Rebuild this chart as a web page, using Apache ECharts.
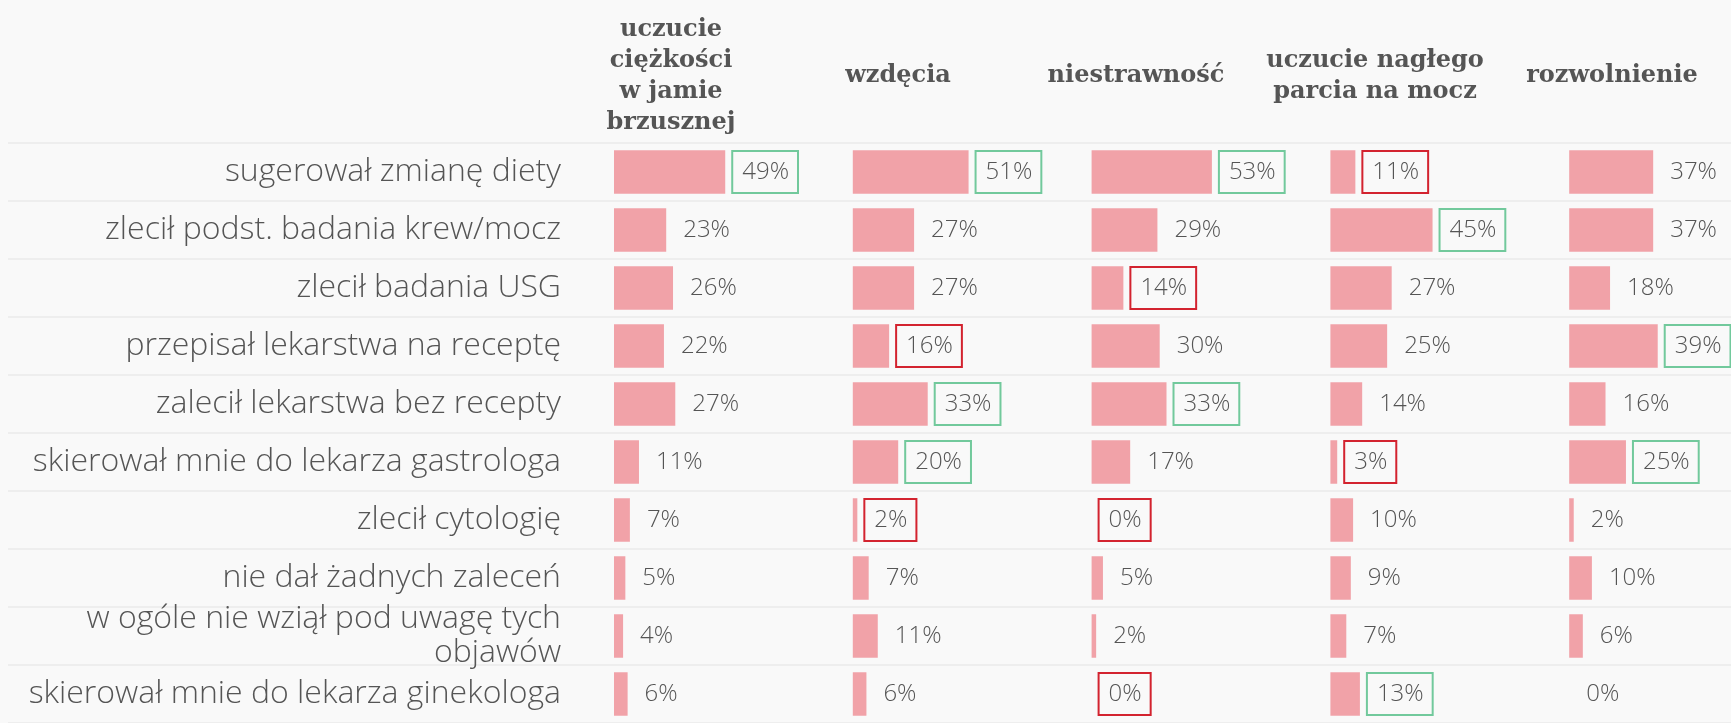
<!DOCTYPE html>
<html>
<head>
<meta charset="utf-8">
<script src="https://cdn.jsdelivr.net/npm/echarts@6/dist/echarts.min.js"></script>
<style>
html,body{margin:0;padding:0;background:#f9f9f9;}
#chart{width:1731px;height:723px;}
</style>
</head>
<body>
<div id="chart"></div>
<script>
// ---- data ----
const categories = [
  'sugerował zmianę diety',
  'zlecił podst. badania krew/mocz',
  'zlecił badania USG',
  'przepisał lekarstwa na receptę',
  'zalecił lekarstwa bez recepty',
  'skierował mnie do lekarza gastrologa',
  'zlecił cytologię',
  'nie dał żadnych zaleceń',
  'w ogóle nie wziął pod uwagę tych\nobjawów',
  'skierował mnie do lekarza ginekologa'
];
const columnNames = [
  'uczucie\nciężkości\nw jamie\nbrzusznej',
  'wzdęcia',
  'niestrawność',
  'uczucie nagłego\nparcia na mocz',
  'rozwolnienie'
];
const ciezkosc     = [49, 23, 26, 22, 27, 11, 7, 5, 4, 6];
const wzdecia      = [51, 27, 27, 16, 33, 20, 2, 7, 11, 6];
const niestrawnosc = [53, 29, 14, 30, 33, 17, 0, 5, 2, 0];
const parcie       = [11, 45, 27, 25, 14, 3, 10, 9, 7, 13];
const rozwolnienie = [37, 37, 18, 39, 16, 25, 2, 10, 6, 0];
// highlight boxes: 1 = green (above), -1 = red (below), 0 = none
const hlCiezkosc     = [1, 0, 0, 0, 0, 0, 0, 0, 0, 0];
const hlWzdecia      = [1, 0, 0, -1, 1, 1, -1, 0, 0, 0];
const hlNiestrawnosc = [1, 0, -1, 0, 1, 0, -1, 0, 0, -1];
const hlParcie       = [-1, 1, 0, 0, 0, -1, 0, 0, 0, 1];
const hlRozwolnienie = [0, 0, 0, 1, 0, 1, 0, 0, 0, 0];

const seriesValues = [ciezkosc, wzdecia, niestrawnosc, parcie, rozwolnienie];
const seriesHighlights = [hlCiezkosc, hlWzdecia, hlNiestrawnosc, hlParcie, hlRozwolnienie];

// ---- layout / style ----
const SANS = "'Open Sans', Lato, sans-serif";
const SERIF = "'DejaVu Serif', serif";
const TEXT = '#555555';
const BAR = '#f1a2a8';
const GREEN = '#72c99c';
const RED = '#d3232f';
const gridTop = 143, gridHeight = 585;
const firstLeft = 614, colStep = 238.8;
const axisMax = 60, colWidth = 136.2;   // 2.27 px per percentage point
const headerX = [671, 898, 1136, 1375, 1612];
const headerY = 76;

const chart = echarts.init(document.getElementById('chart'), null, {renderer: 'canvas'});

const grids = [{left: 8, right: 0, top: gridTop, height: gridHeight}];
const xAxes = [{gridIndex: 0, type: 'value', show: false, min: 0, max: 1}];
const yAxes = [{
  gridIndex: 0, type: 'category', data: categories, inverse: true,
  axisLine: {show: false}, axisTick: {show: false}, axisLabel: {show: false},
  splitLine: {show: true, lineStyle: {color: '#eeeeee', width: 2}}
}];
const series = [];

seriesValues.forEach((vals, i) => {
  const g = i + 1;
  grids.push({left: firstLeft + i * colStep, width: colWidth, top: gridTop, height: gridHeight});
  xAxes.push({gridIndex: g, type: 'value', min: 0, max: axisMax, show: false});
  yAxes.push({
    gridIndex: g, type: 'category', data: categories, inverse: true,
    axisLine: {show: false}, axisTick: {show: false}, splitLine: {show: false},
    axisLabel: i === 0 ? {
      show: true, margin: 53, color: TEXT, fontFamily: SANS, fontWeight: 300,
      fontSize: 32, lineHeight: 34
    } : {show: false}
  });
  const hl = seriesHighlights[i];
  series.push({
    type: 'bar', xAxisIndex: g, yAxisIndex: g,
    barCategoryGap: '25%',
    clip: false,
    itemStyle: {color: BAR},
    label: {
      show: true, position: 'right', distance: 7, formatter: '{c}%',
      color: TEXT, fontFamily: SANS, fontWeight: 300, fontSize: 24, lineHeight: 26,
      padding: [8, 9, 8, 10], borderWidth: 2, borderColor: 'transparent'
    },
    data: vals.map((v, k) => ({
      value: v,
      label: {borderColor: hl[k] === 1 ? GREEN : (hl[k] === -1 ? RED : 'transparent')}
    })),
    silent: true,
    animation: false
  });
});

const graphics = columnNames.map((name, i) => ({
  type: 'text', x: headerX[i], y: headerY,
  style: {
    text: name, fill: TEXT, font: 'bold 24px ' + SERIF,
    align: 'center', verticalAlign: 'middle', lineHeight: 31
  }
}));

chart.setOption({
  backgroundColor: '#f9f9f9',
  animation: false,
  grid: grids,
  xAxis: xAxes,
  yAxis: yAxes,
  series: series,
  graphic: graphics
});
</script>
</body>
</html>
